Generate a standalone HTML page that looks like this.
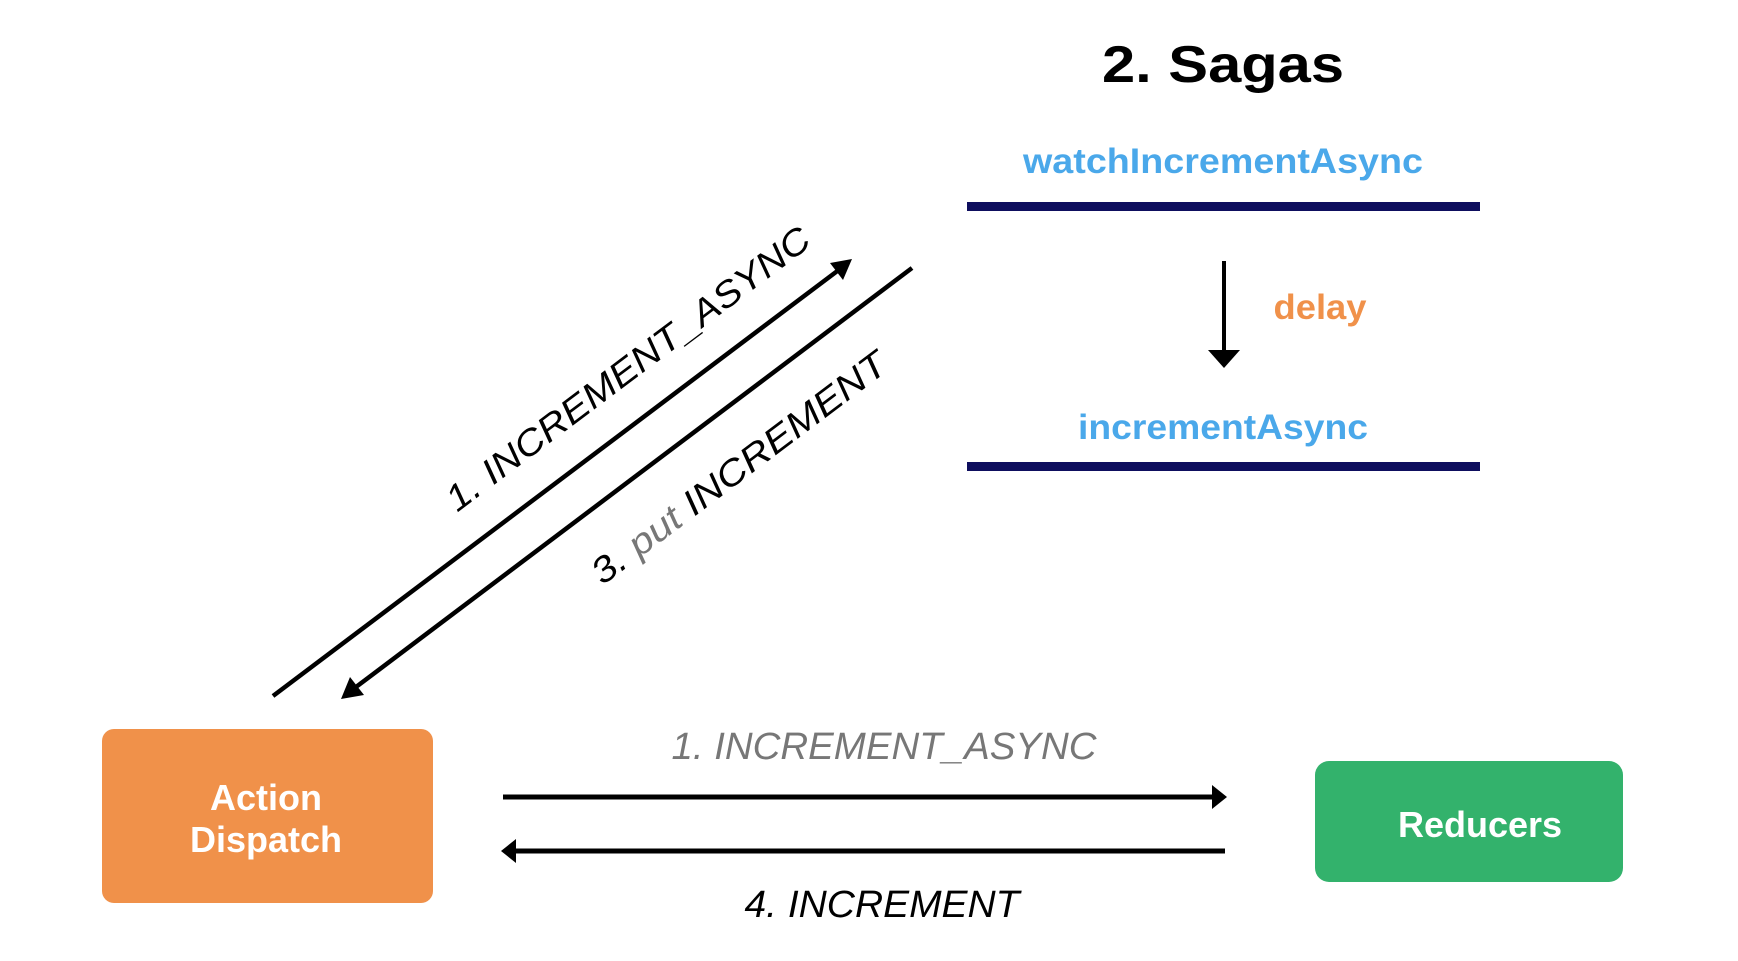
<!DOCTYPE html>
<html><head><meta charset="utf-8"><style>
html,body{margin:0;padding:0;background:#fff;width:1738px;height:961px;overflow:hidden}
svg text{font-family:"Liberation Sans","NanumGothic",sans-serif}
</style></head><body>
<svg width="1738" height="961" viewBox="0 0 1738 961" xmlns="http://www.w3.org/2000/svg">
<defs>
<marker id="ah" markerWidth="10" markerHeight="10" refX="6" refY="5" orient="auto" markerUnits="userSpaceOnUse" viewBox="0 0 10 10">
</marker>
</defs>
<!-- title -->
<text x="1223" y="82" font-size="52" font-weight="bold" text-anchor="middle" fill="#000" textLength="242" lengthAdjust="spacingAndGlyphs">2. Sagas</text>
<text x="1223" y="173" font-size="35" font-weight="bold" text-anchor="middle" fill="#4aa8ea" textLength="400" lengthAdjust="spacingAndGlyphs">watchIncrementAsync</text>
<rect x="967" y="202" width="513" height="9" fill="#0e0e5e"/>
<line x1="1224" y1="261" x2="1224" y2="350" stroke="#000" stroke-width="4"/>
<polygon points="1208,350 1240,350 1224,368" fill="#000"/>
<text x="1320" y="319" font-size="35" font-weight="bold" text-anchor="middle" fill="#f0914a" textLength="93" lengthAdjust="spacingAndGlyphs">delay</text>
<text x="1223" y="439" font-size="35" font-weight="bold" text-anchor="middle" fill="#4aa8ea" textLength="290" lengthAdjust="spacingAndGlyphs">incrementAsync</text>
<rect x="967" y="462" width="513" height="9" fill="#0e0e5e"/>
<!-- diagonal arrows -->
<line x1="273" y1="696" x2="840" y2="269" stroke="#000" stroke-width="4.5"/>
<polygon points="852,259 830,263 843,280" fill="#000"/>
<line x1="912" y1="268" x2="352" y2="690" stroke="#000" stroke-width="4.5"/>
<polygon points="341,699 364,695 350,677" fill="#000"/>
<g transform="translate(628,369) rotate(-37)">
<text x="0" y="12" font-size="36" font-style="italic" text-anchor="middle" fill="#000" textLength="446" lengthAdjust="spacingAndGlyphs">1. INCREMENT_ASYNC</text>
</g>
<g transform="translate(739,468) rotate(-37)">
<text x="0" y="12" font-size="36" font-style="italic" text-anchor="middle" fill="#000" textLength="360" lengthAdjust="spacingAndGlyphs">3. <tspan fill="#777">put</tspan> INCREMENT</text>
</g>
<!-- boxes -->
<rect x="102" y="729" width="331" height="174" rx="12" fill="#f0914a"/>
<text x="266" y="810" font-size="36" font-weight="bold" text-anchor="middle" fill="#fff">Action</text>
<text x="266" y="852" font-size="36" font-weight="bold" text-anchor="middle" fill="#fff">Dispatch</text>
<rect x="1315" y="761" width="308" height="121" rx="14" fill="#33b26c"/>
<text x="1480" y="837" font-size="36" font-weight="bold" text-anchor="middle" fill="#fff">Reducers</text>
<!-- horizontal arrows -->
<line x1="503" y1="797" x2="1212" y2="797" stroke="#000" stroke-width="5"/>
<polygon points="1212,785 1227,797 1212,809" fill="#000"/>
<line x1="1225" y1="851" x2="516" y2="851" stroke="#000" stroke-width="5"/>
<polygon points="516,839 501,851 516,863" fill="#000"/>
<text x="884" y="759" font-size="38" font-style="italic" text-anchor="middle" fill="#777" textLength="425" lengthAdjust="spacingAndGlyphs">1. INCREMENT_ASYNC</text>
<text x="882" y="917" font-size="38" font-style="italic" text-anchor="middle" fill="#000" textLength="275" lengthAdjust="spacingAndGlyphs">4. INCREMENT</text>
</svg>
</body></html>
